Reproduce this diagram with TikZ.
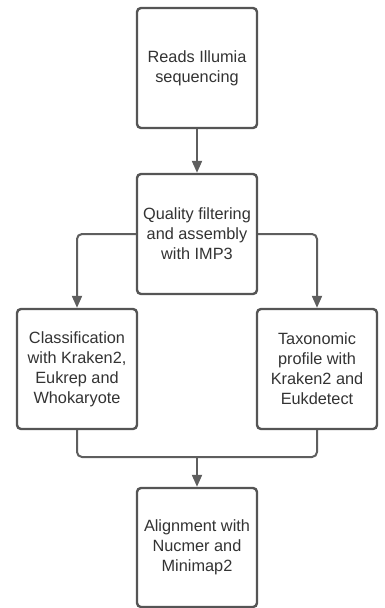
\documentclass[tikz,border=0pt]{standalone}
\usepackage{fontspec}
\setmainfont{Liberation Sans}
\usetikzlibrary{arrows.meta}
\definecolor{edgegray}{HTML}{555555}
\definecolor{linegray}{HTML}{5E5E5E}
\definecolor{txtgray}{HTML}{333333}
\begin{document}
\begin{tikzpicture}[x=1pt,y=1pt,
  box/.style={draw=edgegray, line width=2.4pt, rounded corners=4pt, minimum width=120pt, minimum height=120pt, inner sep=0pt, align=center, text=txtgray, font=\fontsize{16.3}{20}\selectfont, fill=white},
  conn/.style={draw=linegray, line width=2pt, rounded corners=5pt},
  arr/.style={conn, -{Triangle[width=10pt,length=12pt]}}]
\useasboundingbox (0,0) rectangle (385,-608);
\node[box] (b1) at (197,-68) {Reads Illumia\\sequencing};
\node[box] (b2) at (197,-234) {Quality filtering\\and assembly\\with IMP3};
\node[box] (b3) at (77,-369) {Classification\\with Kraken2,\\Eukrep and\\Whokaryote};
\node[box] (b4) at (317,-369) {Taxonomic\\profile with\\Kraken2 and\\Eukdetect};
\node[box, minimum height=119pt] (b5) at (197,-547.5) {Alignment with\\Nucmer and\\Minimap2};
\coordinate (m) at (197,-457);
\draw[arr] (b1.south) -- (b2.north);
\draw[arr] (b2.west) -| (b3.north);
\draw[arr] (b2.east) -| (b4.north);
\draw[conn] (b3.south) |- (m);
\draw[conn] (b4.south) |- (m);
\draw[arr] (m) -- (b5.north);
\end{tikzpicture}
\end{document}
